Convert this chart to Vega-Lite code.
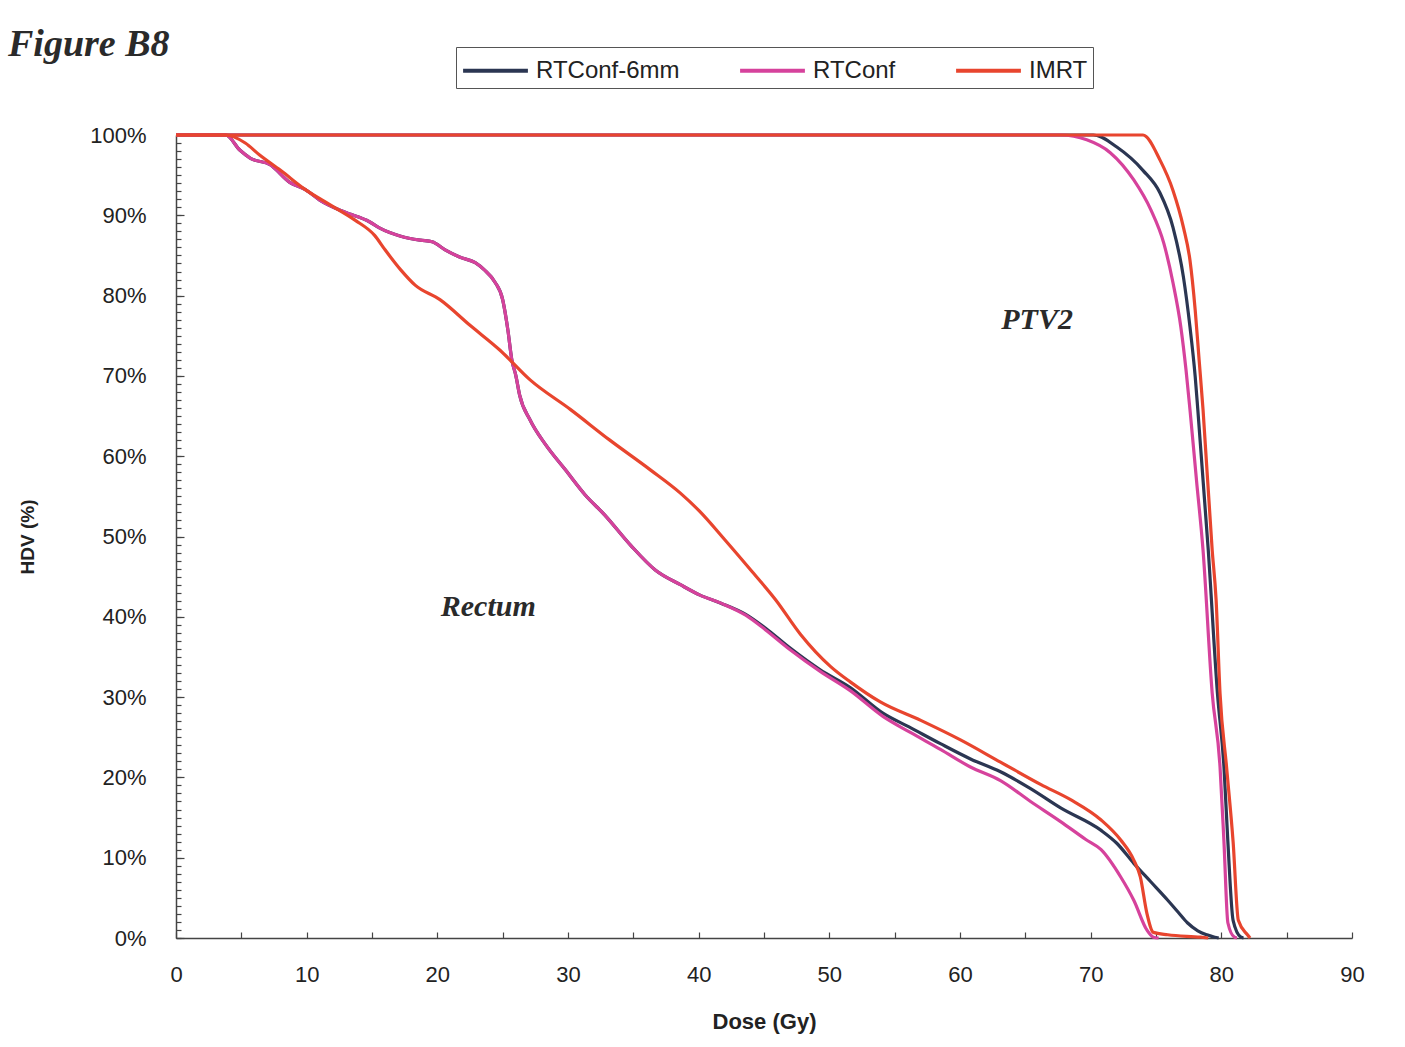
{
  "$schema": "https://vega.github.io/schema/vega-lite/v6.json",
  "width": 1176,
  "height": 803,
  "autosize": "none",
  "padding": {"left": 176, "top": 135, "right": 53, "bottom": 109},
  "background": "white",
  "title": {"text": "Figure B8", "anchor": "start", "frame": "group", "font": "Liberation Serif", "fontSize": 38, "fontStyle": "italic", "fontWeight": "bold", "color": "#2a2a2a", "dx": -168, "offset": -47, "baseline": "alphabetic"},
  "config": {
    "view": {"stroke": null},
    "axis": {"domainColor": "#444", "domainWidth": 1.5, "tickColor": "#444", "tickWidth": 1.2, "labelFont": "Liberation Sans", "labelFontSize": 22, "labelColor": "#222", "titleFont": "Liberation Sans", "titleFontWeight": "bold", "titleColor": "#222", "grid": false}
  },
  "datasets": {
    "curves": [
      {"s":"RTConf-6mm","st":"Rectum","d":0,"v":100},{"s":"RTConf-6mm","st":"Rectum","d":3.8,"v":100},{"s":"RTConf-6mm","st":"Rectum","d":4.9,"v":98.1},{"s":"RTConf-6mm","st":"Rectum","d":5.7,"v":97.1},{"s":"RTConf-6mm","st":"Rectum","d":7.2,"v":96.3},{"s":"RTConf-6mm","st":"Rectum","d":8.7,"v":94.1},{"s":"RTConf-6mm","st":"Rectum","d":9.9,"v":93.2},{"s":"RTConf-6mm","st":"Rectum","d":11.0,"v":91.9},{"s":"RTConf-6mm","st":"Rectum","d":12.9,"v":90.4},{"s":"RTConf-6mm","st":"Rectum","d":14.8,"v":89.2},{"s":"RTConf-6mm","st":"Rectum","d":15.6,"v":88.4},{"s":"RTConf-6mm","st":"Rectum","d":17.2,"v":87.4},{"s":"RTConf-6mm","st":"Rectum","d":18.7,"v":86.9},{"s":"RTConf-6mm","st":"Rectum","d":19.6,"v":86.7},{"s":"RTConf-6mm","st":"Rectum","d":20.6,"v":85.7},{"s":"RTConf-6mm","st":"Rectum","d":21.7,"v":84.8},{"s":"RTConf-6mm","st":"Rectum","d":22.9,"v":84.1},{"s":"RTConf-6mm","st":"Rectum","d":23.6,"v":83.2},{"s":"RTConf-6mm","st":"Rectum","d":24.4,"v":81.7},{"s":"RTConf-6mm","st":"Rectum","d":25.0,"v":79.5},{"s":"RTConf-6mm","st":"Rectum","d":25.4,"v":75.7},{"s":"RTConf-6mm","st":"Rectum","d":25.7,"v":72.0},{"s":"RTConf-6mm","st":"Rectum","d":26.0,"v":70.1},{"s":"RTConf-6mm","st":"Rectum","d":26.3,"v":67.6},{"s":"RTConf-6mm","st":"Rectum","d":27.1,"v":64.5},{"s":"RTConf-6mm","st":"Rectum","d":28.3,"v":61.4},{"s":"RTConf-6mm","st":"Rectum","d":29.8,"v":58.3},{"s":"RTConf-6mm","st":"Rectum","d":31.3,"v":55.2},{"s":"RTConf-6mm","st":"Rectum","d":32.8,"v":52.7},{"s":"RTConf-6mm","st":"Rectum","d":34.8,"v":48.9},{"s":"RTConf-6mm","st":"Rectum","d":36.7,"v":45.8},{"s":"RTConf-6mm","st":"Rectum","d":38.6,"v":44.0},{"s":"RTConf-6mm","st":"Rectum","d":40.1,"v":42.7},{"s":"RTConf-6mm","st":"Rectum","d":41.7,"v":41.7},{"s":"RTConf-6mm","st":"Rectum","d":43.6,"v":40.3},{"s":"RTConf-6mm","st":"Rectum","d":45.1,"v":38.6},{"s":"RTConf-6mm","st":"Rectum","d":47.0,"v":36.1},{"s":"RTConf-6mm","st":"Rectum","d":49.3,"v":33.4},{"s":"RTConf-6mm","st":"Rectum","d":51.6,"v":31.2},{"s":"RTConf-6mm","st":"Rectum","d":54.1,"v":28.0},{"s":"RTConf-6mm","st":"Rectum","d":56.2,"v":26.2},{"s":"RTConf-6mm","st":"Rectum","d":58.5,"v":24.2},{"s":"RTConf-6mm","st":"Rectum","d":60.8,"v":22.3},{"s":"RTConf-6mm","st":"Rectum","d":63.1,"v":20.7},{"s":"RTConf-6mm","st":"Rectum","d":65.4,"v":18.6},{"s":"RTConf-6mm","st":"Rectum","d":67.7,"v":16.2},{"s":"RTConf-6mm","st":"Rectum","d":70.8,"v":13.4},{"s":"RTConf-6mm","st":"Rectum","d":72.0,"v":11.8},{"s":"RTConf-6mm","st":"Rectum","d":73.3,"v":9.3},{"s":"RTConf-6mm","st":"Rectum","d":74.6,"v":7.0},{"s":"RTConf-6mm","st":"Rectum","d":75.9,"v":4.7},{"s":"RTConf-6mm","st":"Rectum","d":76.7,"v":3.2},{"s":"RTConf-6mm","st":"Rectum","d":77.4,"v":1.9},{"s":"RTConf-6mm","st":"Rectum","d":78.2,"v":0.9},{"s":"RTConf-6mm","st":"Rectum","d":78.9,"v":0.4},{"s":"RTConf-6mm","st":"Rectum","d":79.5,"v":0.1},{"s":"RTConf-6mm","st":"Rectum","d":79.8,"v":0},
      {"s":"RTConf-6mm","st":"PTV2","d":0,"v":100},{"s":"RTConf-6mm","st":"PTV2","d":70.2,"v":100},{"s":"RTConf-6mm","st":"PTV2","d":72.0,"v":98.5},{"s":"RTConf-6mm","st":"PTV2","d":74.0,"v":95.6},{"s":"RTConf-6mm","st":"PTV2","d":75.3,"v":92.8},{"s":"RTConf-6mm","st":"PTV2","d":76.3,"v":88.5},{"s":"RTConf-6mm","st":"PTV2","d":77.1,"v":82.3},{"s":"RTConf-6mm","st":"PTV2","d":77.6,"v":76.1},{"s":"RTConf-6mm","st":"PTV2","d":78.0,"v":69.9},{"s":"RTConf-6mm","st":"PTV2","d":78.2,"v":65.8},{"s":"RTConf-6mm","st":"PTV2","d":79.0,"v":48.3},{"s":"RTConf-6mm","st":"PTV2","d":79.7,"v":30.5},{"s":"RTConf-6mm","st":"PTV2","d":80.2,"v":21.3},{"s":"RTConf-6mm","st":"PTV2","d":80.5,"v":12.0},{"s":"RTConf-6mm","st":"PTV2","d":80.9,"v":2.2},{"s":"RTConf-6mm","st":"PTV2","d":81.5,"v":0.1},{"s":"RTConf-6mm","st":"PTV2","d":81.7,"v":0},
      {"s":"RTConf","st":"Rectum","d":0,"v":100},{"s":"RTConf","st":"Rectum","d":3.8,"v":100},{"s":"RTConf","st":"Rectum","d":4.9,"v":98.1},{"s":"RTConf","st":"Rectum","d":5.7,"v":97.1},{"s":"RTConf","st":"Rectum","d":7.2,"v":96.3},{"s":"RTConf","st":"Rectum","d":8.7,"v":94.1},{"s":"RTConf","st":"Rectum","d":9.9,"v":93.2},{"s":"RTConf","st":"Rectum","d":11.0,"v":91.9},{"s":"RTConf","st":"Rectum","d":12.9,"v":90.4},{"s":"RTConf","st":"Rectum","d":14.8,"v":89.2},{"s":"RTConf","st":"Rectum","d":15.6,"v":88.4},{"s":"RTConf","st":"Rectum","d":17.2,"v":87.4},{"s":"RTConf","st":"Rectum","d":18.7,"v":86.9},{"s":"RTConf","st":"Rectum","d":19.6,"v":86.7},{"s":"RTConf","st":"Rectum","d":20.6,"v":85.7},{"s":"RTConf","st":"Rectum","d":21.7,"v":84.8},{"s":"RTConf","st":"Rectum","d":22.9,"v":84.1},{"s":"RTConf","st":"Rectum","d":23.6,"v":83.2},{"s":"RTConf","st":"Rectum","d":24.4,"v":81.7},{"s":"RTConf","st":"Rectum","d":25.0,"v":79.5},{"s":"RTConf","st":"Rectum","d":25.4,"v":75.7},{"s":"RTConf","st":"Rectum","d":25.7,"v":72.0},{"s":"RTConf","st":"Rectum","d":26.0,"v":70.1},{"s":"RTConf","st":"Rectum","d":26.3,"v":67.6},{"s":"RTConf","st":"Rectum","d":27.1,"v":64.5},{"s":"RTConf","st":"Rectum","d":28.3,"v":61.4},{"s":"RTConf","st":"Rectum","d":29.8,"v":58.3},{"s":"RTConf","st":"Rectum","d":31.3,"v":55.2},{"s":"RTConf","st":"Rectum","d":32.8,"v":52.7},{"s":"RTConf","st":"Rectum","d":34.8,"v":48.9},{"s":"RTConf","st":"Rectum","d":36.7,"v":45.8},{"s":"RTConf","st":"Rectum","d":38.6,"v":44.0},{"s":"RTConf","st":"Rectum","d":40.1,"v":42.7},{"s":"RTConf","st":"Rectum","d":41.7,"v":41.7},{"s":"RTConf","st":"Rectum","d":43.6,"v":40.2},{"s":"RTConf","st":"Rectum","d":45.1,"v":38.4},{"s":"RTConf","st":"Rectum","d":47.0,"v":35.9},{"s":"RTConf","st":"Rectum","d":49.3,"v":33.2},{"s":"RTConf","st":"Rectum","d":51.6,"v":30.8},{"s":"RTConf","st":"Rectum","d":54.1,"v":27.6},{"s":"RTConf","st":"Rectum","d":56.2,"v":25.6},{"s":"RTConf","st":"Rectum","d":58.5,"v":23.5},{"s":"RTConf","st":"Rectum","d":60.8,"v":21.3},{"s":"RTConf","st":"Rectum","d":63.1,"v":19.6},{"s":"RTConf","st":"Rectum","d":65.4,"v":17.0},{"s":"RTConf","st":"Rectum","d":67.7,"v":14.5},{"s":"RTConf","st":"Rectum","d":69.6,"v":12.3},{"s":"RTConf","st":"Rectum","d":70.8,"v":11.0},{"s":"RTConf","st":"Rectum","d":72.3,"v":7.6},{"s":"RTConf","st":"Rectum","d":73.3,"v":4.7},{"s":"RTConf","st":"Rectum","d":74.3,"v":1.0},{"s":"RTConf","st":"Rectum","d":74.8,"v":0.1},{"s":"RTConf","st":"Rectum","d":75.2,"v":0},
      {"s":"RTConf","st":"PTV2","d":0,"v":100},{"s":"RTConf","st":"PTV2","d":67.7,"v":100},{"s":"RTConf","st":"PTV2","d":69.7,"v":99.4},{"s":"RTConf","st":"PTV2","d":71.5,"v":97.8},{"s":"RTConf","st":"PTV2","d":73.3,"v":94.4},{"s":"RTConf","st":"PTV2","d":74.6,"v":90.7},{"s":"RTConf","st":"PTV2","d":75.6,"v":86.5},{"s":"RTConf","st":"PTV2","d":76.3,"v":81.6},{"s":"RTConf","st":"PTV2","d":76.9,"v":76.1},{"s":"RTConf","st":"PTV2","d":77.3,"v":70.7},{"s":"RTConf","st":"PTV2","d":77.6,"v":65.8},{"s":"RTConf","st":"PTV2","d":78.1,"v":57.0},{"s":"RTConf","st":"PTV2","d":78.6,"v":48.3},{"s":"RTConf","st":"PTV2","d":79.3,"v":30.5},{"s":"RTConf","st":"PTV2","d":79.9,"v":21.3},{"s":"RTConf","st":"PTV2","d":80.2,"v":12.0},{"s":"RTConf","st":"PTV2","d":80.5,"v":1.9},{"s":"RTConf","st":"PTV2","d":81.0,"v":0.1},{"s":"RTConf","st":"PTV2","d":81.2,"v":0},
      {"s":"IMRT","st":"Rectum","d":0,"v":100},{"s":"IMRT","st":"Rectum","d":3.8,"v":100},{"s":"IMRT","st":"Rectum","d":5.3,"v":99.0},{"s":"IMRT","st":"Rectum","d":6.4,"v":97.5},{"s":"IMRT","st":"Rectum","d":8.0,"v":95.6},{"s":"IMRT","st":"Rectum","d":9.9,"v":93.2},{"s":"IMRT","st":"Rectum","d":11.8,"v":91.3},{"s":"IMRT","st":"Rectum","d":13.7,"v":89.4},{"s":"IMRT","st":"Rectum","d":15.2,"v":87.5},{"s":"IMRT","st":"Rectum","d":16.0,"v":85.7},{"s":"IMRT","st":"Rectum","d":17.2,"v":83.2},{"s":"IMRT","st":"Rectum","d":18.3,"v":81.3},{"s":"IMRT","st":"Rectum","d":20.2,"v":79.5},{"s":"IMRT","st":"Rectum","d":22.5,"v":76.3},{"s":"IMRT","st":"Rectum","d":24.8,"v":73.2},{"s":"IMRT","st":"Rectum","d":27.1,"v":69.5},{"s":"IMRT","st":"Rectum","d":30.2,"v":65.8},{"s":"IMRT","st":"Rectum","d":33.2,"v":62.0},{"s":"IMRT","st":"Rectum","d":36.3,"v":58.3},{"s":"IMRT","st":"Rectum","d":38.6,"v":55.4},{"s":"IMRT","st":"Rectum","d":40.1,"v":53.1},{"s":"IMRT","st":"Rectum","d":42.0,"v":49.6},{"s":"IMRT","st":"Rectum","d":44.0,"v":45.8},{"s":"IMRT","st":"Rectum","d":45.9,"v":42.1},{"s":"IMRT","st":"Rectum","d":47.8,"v":37.8},{"s":"IMRT","st":"Rectum","d":50.1,"v":33.8},{"s":"IMRT","st":"Rectum","d":51.6,"v":31.9},{"s":"IMRT","st":"Rectum","d":53.9,"v":29.4},{"s":"IMRT","st":"Rectum","d":57.0,"v":27.1},{"s":"IMRT","st":"Rectum","d":60.0,"v":24.7},{"s":"IMRT","st":"Rectum","d":63.1,"v":21.9},{"s":"IMRT","st":"Rectum","d":66.2,"v":19.1},{"s":"IMRT","st":"Rectum","d":68.5,"v":17.2},{"s":"IMRT","st":"Rectum","d":70.8,"v":14.7},{"s":"IMRT","st":"Rectum","d":72.3,"v":12.2},{"s":"IMRT","st":"Rectum","d":73.3,"v":9.7},{"s":"IMRT","st":"Rectum","d":73.8,"v":7.6},{"s":"IMRT","st":"Rectum","d":74.3,"v":3.1},{"s":"IMRT","st":"Rectum","d":74.8,"v":0.7},{"s":"IMRT","st":"Rectum","d":75.9,"v":0.4},{"s":"IMRT","st":"Rectum","d":78.4,"v":0.1},{"s":"IMRT","st":"Rectum","d":79.0,"v":0},
      {"s":"IMRT","st":"PTV2","d":0,"v":100},{"s":"IMRT","st":"PTV2","d":74.0,"v":100},{"s":"IMRT","st":"PTV2","d":75.3,"v":96.9},{"s":"IMRT","st":"PTV2","d":76.3,"v":93.1},{"s":"IMRT","st":"PTV2","d":77.1,"v":88.5},{"s":"IMRT","st":"PTV2","d":77.6,"v":84.4},{"s":"IMRT","st":"PTV2","d":78.0,"v":78.2},{"s":"IMRT","st":"PTV2","d":78.3,"v":72.0},{"s":"IMRT","st":"PTV2","d":78.6,"v":65.8},{"s":"IMRT","st":"PTV2","d":79.3,"v":48.3},{"s":"IMRT","st":"PTV2","d":79.6,"v":42.1},{"s":"IMRT","st":"PTV2","d":79.9,"v":30.5},{"s":"IMRT","st":"PTV2","d":80.4,"v":21.3},{"s":"IMRT","st":"PTV2","d":80.9,"v":12.0},{"s":"IMRT","st":"PTV2","d":81.3,"v":2.2},{"s":"IMRT","st":"PTV2","d":82.0,"v":0.4},{"s":"IMRT","st":"PTV2","d":82.2,"v":0}
    ],
    "notes": [
      {"label": "Rectum", "d": 23.9, "v": 41.2},
      {"label": "PTV2", "d": 65.9, "v": 77.0}
    ]
  },
  "layer": [
    {
      "data": {"name": "curves"},
      "mark": {"type": "line", "strokeWidth": 3.2, "interpolate": "monotone"},
      "encoding": {
        "x": {"field": "d", "type": "quantitative", "scale": {"domain": [0, 90], "nice": false},
          "axis": {"title": "Dose (Gy)", "titleFontSize": 22, "titlePadding": 26, "values": [0,5,10,15,20,25,30,35,40,45,50,55,60,65,70,75,80,85,90], "labelExpr": "datum.value % 10 == 0 ? datum.label : ''", "tickSize": -6, "labelPadding": 32, "labelFlush": false}},
        "y": {"field": "v", "type": "quantitative", "scale": {"domain": [0, 100], "nice": false},
          "axis": {"orient": "left", "title": "HDV (%)", "titleFontSize": 19, "titlePadding": 52, "values": [0,10,20,30,40,50,60,70,80,90,100], "labelExpr": "datum.value + '%'", "tickSize": -8, "labelPadding": 38}},
        "color": {"field": "s", "type": "nominal",
          "scale": {"domain": ["RTConf-6mm", "RTConf", "IMRT"], "range": ["#2b3652", "#d6429c", "#e8452e"]},
          "legend": {"orient": "none", "legendX": 280, "legendY": -88, "direction": "horizontal", "title": null, "symbolType": "M-2,0H2", "symbolSize": 1050, "symbolOffset": 16, "symbolStrokeWidth": 4, "labelFont": "Liberation Sans", "labelFontSize": 24, "labelColor": "#222", "strokeColor": "#555", "padding": 5, "columnPadding": 52, "labelOffset": 22, "fillColor": "white"}},
        "detail": {"field": "st", "type": "nominal"}
      }
    },
    {
      "data": {"name": "notes"},
      "mark": {"type": "text", "font": "Liberation Serif", "fontSize": 30, "fontStyle": "italic", "fontWeight": "bold", "color": "#2a2a2a"},
      "encoding": {
        "x": {"field": "d", "type": "quantitative"},
        "y": {"field": "v", "type": "quantitative",
          "axis": {"orient": "left", "title": null, "labels": false, "domain": false, "values": [0,1,2,3,4,5,6,7,8,9,10,11,12,13,14,15,16,17,18,19,20,21,22,23,24,25,26,27,28,29,30,31,32,33,34,35,36,37,38,39,40,41,42,43,44,45,46,47,48,49,50,51,52,53,54,55,56,57,58,59,60,61,62,63,64,65,66,67,68,69,70,71,72,73,74,75,76,77,78,79,80,81,82,83,84,85,86,87,88,89,90,91,92,93,94,95,96,97,98,99,100], "tickSize": -5}},
        "text": {"field": "label"}
      }
    }
  ],
  "resolve": {"axis": {"y": "independent"}}
}
